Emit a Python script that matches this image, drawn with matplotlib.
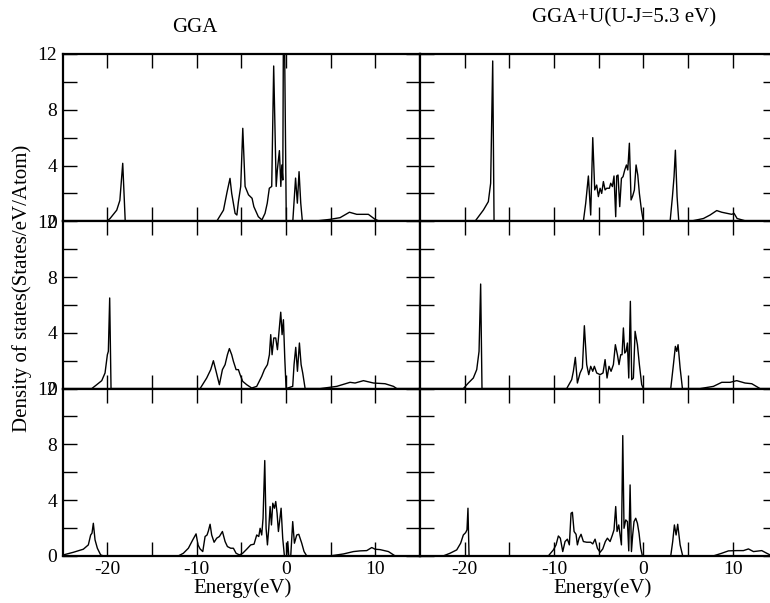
"""Density of states: GGA vs GGA+U, three sites stacked, shared energy axis."""
import matplotlib
matplotlib.use("Agg")
import matplotlib.pyplot as plt
from matplotlib.ticker import MultipleLocator, FixedLocator

plt.rcParams["font.family"] = ["Liberation Serif", "DejaVu Serif"]
plt.rcParams["axes.unicode_minus"] = False

# ---- data: energy (eV) and DOS (states/eV/atom) ----
# top row, GGA
e_gga_1 = [-25, -20.07, -19.7, -18.95, -18.6, -18.28, -18.0,
           -7.76, -7.0, -6.6, -6.27, -6.08, -5.7, -5.5, -5.33, -5.07, -4.84, -4.58,
           -4.2, -3.8, -3.6, -3.1, -2.7, -2.35, -2.1, -1.87, -1.6, -1.38, -1.1, -0.97,
           -0.74, -0.58, -0.47, -0.36, -0.29, -0.18, 0.03,
           0.76, 1.07, 1.27, 1.46, 1.65, 1.83,
           3.06, 4.93, 6.05, 7.1, 7.92, 9.22, 9.97, 10.5, 15]
d_gga_1 = [0, 0, 0.2, 0.8, 1.5, 4.16, 0,
           0, 0.8, 2.1, 3.08, 2.0, 0.57, 0.45, 1.4, 2.5, 6.67, 2.5,
           1.9, 1.65, 1.05, 0.33, 0.1, 0.57, 1.3, 2.37, 2.5, 11.14, 2.5, 3.68,
           5.07, 2.5, 4.04, 2.96, 14, 14, 0,
           0, 3.1, 1.3, 3.56, 1.3, 0,
           0, 0.14, 0.26, 0.65, 0.5, 0.5, 0.14, 0, 0]

# top row, GGA+U
e_ggau_1 = [-25, -18.84, -17.9, -17.35, -17.09, -16.86, -16.71,
            -6.71, -6.45, -6.15, -5.89, -5.66, -5.44, -5.22, -5.03, -4.84, -4.66, -4.47,
            -4.28, -4.1, -3.8, -3.65, -3.46, -3.28, -3.09, -2.98, -2.83, -2.64, -2.45,
            -2.27, -2.08, -1.89, -1.74, -1.56, -1.37, -1.19, -1.0, -0.81, -0.62, -0.44,
            -0.21, 0.0,
            3.0, 3.26, 3.44, 3.59, 3.78, 3.97,
            5.24, 6.73, 7.47, 8.22, 8.78, 9.9, 10.16, 10.5, 11.6, 15]
d_ggau_1 = [0, 0, 0.81, 1.41, 2.73, 11.5, 0,
            0, 1.29, 3.25, 0.45, 6.0, 2.25, 2.6, 1.77, 2.37, 2.0, 2.85,
            2.25, 2.37, 2.37, 2.73, 2.49, 3.25, 0.33, 3.25, 3.32, 1.05, 3.08,
            3.2, 3.68, 4.04, 3.68, 5.6, 1.53, 1.82, 2.25, 4.04, 3.32, 2.0,
            0.81, 0,
            0, 1.77, 3.2, 5.1, 1.77, 0,
            0, 0.2, 0.45, 0.77, 0.65, 0.5, 0.57, 0.2, 0, 0]

# middle row, GGA
e_gga_2 = [-25, -21.75, -21.19, -20.63, -20.26, -20.0, -19.89, -19.74, -19.59,
           -9.62, -8.88, -8.43, -8.13, -7.83, -7.46, -7.12, -6.82, -6.56, -6.34, -6.08,
           -5.89, -5.59, -5.33, -5.14, -4.85, -4.4, -3.84, -3.28, -2.72, -2.42, -2.08,
           -1.86, -1.71, -1.56, -1.37, -1.15, -0.96, -0.78, -0.59, -0.44, -0.29, -0.14,
           0.01,
           0.75, 0.9, 1.09, 1.28, 1.5, 1.69, 1.87, 2.14,
           3.82, 5.68, 7.17, 7.73, 8.67, 9.79, 11.09, 12.03, 12.4, 15]
d_gga_2 = [0, 0, 0.28, 0.57, 1.12, 2.43, 2.67, 6.5, 0,
           0, 0.76, 1.36, 2.0, 1.24, 0.28, 1.36, 1.72, 2.43, 2.87, 2.43,
           1.96, 1.36, 1.36, 1.0, 0.52, 0.28, 0.04, 0.16, 0.88, 1.36, 1.72,
           2.43, 3.87, 2.43, 3.63, 3.63, 2.79, 4.11, 5.48, 3.87, 4.94, 2.2,
           0,
           0.16, 1.72, 2.96, 1.24, 3.27, 1.72, 1.12, 0,
           0, 0.16, 0.45, 0.4, 0.57, 0.4, 0.35, 0.16, 0, 0]

# middle row, GGA+U
e_ggau_2 = [-25, -20.15, -19.59, -19.03, -18.65, -18.39, -18.21, -18.06,
            -8.58, -8.02, -7.83, -7.61, -7.38, -7.08, -6.82, -6.6, -6.34, -6.11, -5.89,
            -5.66, -5.48, -5.22, -4.84, -4.51, -4.28, -4.06, -3.84, -3.61, -3.35, -3.13,
            -2.9, -2.72, -2.53, -2.38, -2.23, -2.08, -1.93, -1.78, -1.63, -1.45, -1.3,
            -1.11, -0.92, -0.66, -0.44, -0.18, 0.01,
            3.07, 3.37, 3.59, 3.74, 3.89, 4.12, 4.38,
            6.35, 7.85, 8.78, 9.71, 10.46, 11.39, 12.14, 13.07, 15]
d_ggau_2 = [0, 0, 0.4, 0.76, 1.36, 2.67, 7.5, 0,
            0, 0.64, 1.24, 2.24, 0.4, 1.12, 1.48, 4.51, 1.72, 1.0, 1.6,
            1.24, 1.6, 1.12, 1.0, 1.12, 2.08, 0.76, 1.6, 1.24, 1.72, 3.15,
            2.43, 1.72, 2.43, 2.43, 4.35, 2.55, 2.67, 3.27, 0.76, 6.26, 0.64,
            0.76, 4.11, 3.15, 1.72, 0.28, 0,
            0, 1.72, 3.03, 2.67, 3.15, 1.48, 0,
            0, 0.16, 0.45, 0.45, 0.57, 0.4, 0.35, 0, 0]

# bottom row, GGA
e_gga_3 = [-25, -24.93, -23.8, -22.69, -22.13, -21.87, -21.72, -21.57, -21.38, -21.12,
           -20.75, -20.45,
           -12.05, -11.49, -10.93, -10.44, -10.07, -9.85, -9.62, -9.32, -9.06, -8.84,
           -8.69, -8.5, -8.32, -8.05, -7.76, -7.46, -7.12, -6.82, -6.56, -6.19, -5.89,
           -5.59, -5.22, -4.85, -4.4, -3.95, -3.58, -3.28, -3.05, -2.9, -2.72, -2.57,
           -2.38, -2.23, -2.08, -1.93, -1.78, -1.63, -1.48, -1.3, -1.15, -1.0, -0.85,
           -0.7, -0.55, -0.37, -0.18, 0.08, 0.2, 0.31, 0.53, 0.75, 0.94, 1.2, 1.43,
           1.76, 2.02, 2.32,
           4.94, 6.43, 7.55, 8.29, 9.04, 9.6, 9.97, 10.53, 11.47, 12.21, 15]
d_gga_3 = [0, 0.07, 0.26, 0.48, 0.79, 1.5, 1.63, 2.34, 1.15, 0.55,
           0.07, 0,
           0, 0.19, 0.55, 1.15, 1.58, 0.79, 0.5, 0.31, 1.39, 1.5,
           1.79, 2.27, 1.5, 0.98, 1.27, 1.39, 1.75, 1.03, 0.67, 0.55, 0.55,
           0.19, 0.07, 0.19, 0.48, 0.79, 0.84, 1.5, 1.39, 1.98, 1.5, 2.7,
           6.84, 1.98, 0.79, 1.98, 3.54, 2.22, 3.78, 3.42, 3.9, 3.06, 1.75,
           2.58, 3.42, 1.27, 0, 0, 1.03, 0, 0, 2.46, 0.91, 1.5, 1.55,
           0.91, 0.31, 0,
           0, 0.14, 0.31, 0.36, 0.38, 0.6, 0.48, 0.45, 0.31, 0, 0]

# bottom row, GGA+U
e_ggau_3 = [-25, -22.39, -21.64, -20.89, -20.45, -20.15, -19.89, -19.74, -19.63, -19.51,
            -10.63, -10.07, -9.77, -9.51, -9.29, -9.02, -8.76, -8.5, -8.28, -8.09, -7.94,
            -7.75, -7.53, -7.38, -7.19, -6.97, -6.71, -6.34, -5.89, -5.66, -5.4, -5.14,
            -4.84, -4.54, -4.25, -4.02, -3.72, -3.46, -3.28, -3.09, -2.94, -2.75, -2.6,
            -2.45, -2.3, -2.16, -1.97, -1.78, -1.63, -1.48, -1.33, -1.19, -1.04, -0.85,
            -0.66, -0.48, -0.29, -0.1,
            3.07, 3.29, 3.48, 3.67, 3.85, 4.12, 4.41,
            7.85, 8.78, 9.53, 10.46, 11.21, 11.77, 12.33, 13.26, 13.82, 14.2, 15]
d_ggau_3 = [0, 0, 0.19, 0.43, 0.91, 1.5, 1.67, 1.87, 3.42, 0,
            0, 0.43, 0.79, 1.43, 1.27, 0.31, 1.03, 1.2, 0.79, 3.06, 3.13,
            1.75, 1.55, 0.79, 1.27, 1.55, 1.03, 0.98, 0.98, 0.86, 1.2, 0.55,
            0.26, 0.5, 1.03, 1.27, 1.03, 1.5, 1.87, 3.54, 1.75, 2.22, 1.5,
            0.79, 8.63, 1.98, 2.58, 2.46, 0.36, 5.09, 0.31, 1.5, 2.46, 2.7,
            2.34, 1.63, 0.55, 0,
            0, 1.03, 2.22, 1.5, 2.27, 0.79, 0,
            0, 0.19, 0.36, 0.38, 0.38, 0.5, 0.31, 0.38, 0.19, 0.07, 0]

panels = [
    [(e_gga_1, d_gga_1), (e_ggau_1, d_ggau_1)],
    [(e_gga_2, d_gga_2), (e_ggau_2, d_ggau_2)],
    [(e_gga_3, d_gga_3), (e_ggau_3, d_ggau_3)],
]

W, H = 770, 603
fig = plt.figure(figsize=(W / 100, H / 100), dpi=100)
fig.patch.set_facecolor("white")

# panel grid in pixels; the right column runs a little past the figure edge
x_left = [62.7, 420.0]
ax_w = 357.3
row_top = [54.0, 221.3, 388.6]
ax_h = 167.3
xlabel_pos = [0.503, 0.511]

for r in range(3):
    for c in range(2):
        rect = [x_left[c] / W, 1 - (row_top[r] + ax_h) / H, ax_w / W, ax_h / H]
        ax = fig.add_axes(rect)
        e, d = panels[r][c]
        ax.plot(e, d, color="black", lw=1.0)
        ax.set_xlim(-25, 15)
        ax.set_ylim(0, 12)
        for s in ax.spines.values():
            s.set_linewidth(1.6)
        ax.xaxis.set_major_locator(FixedLocator([-20, -10, 0, 10]))
        ax.xaxis.set_minor_locator(FixedLocator([-15, -5, 5]))
        ax.yaxis.set_major_locator(MultipleLocator(4))
        ax.yaxis.set_minor_locator(MultipleLocator(2))
        ax.tick_params(which="both", direction="in", length=10, width=1.0,
                       top=True, right=True, labelsize=14, pad=4)
        if c == 1:
            ax.tick_params(labelleft=False)
        if r < 2:
            ax.tick_params(labelbottom=False)
        else:
            ax.set_xlabel("Energy(eV)", fontsize=15, labelpad=0)
            ax.xaxis.set_label_coords(xlabel_pos[c], -0.135)

fig.text(195 / W, 1 - 28 / H, "GGA", ha="center", va="center", fontsize=15)
fig.text(624 / W, 1 - 18 / H, "GGA+U(U-J=5.3 eV)", ha="center", va="center", fontsize=15)
fig.text(22 / W, 1 - 288 / H, "Density of states(States/eV/Atom)", rotation=90,
         ha="center", va="center", fontsize=15)

fig.savefig("out.png", dpi=100)
